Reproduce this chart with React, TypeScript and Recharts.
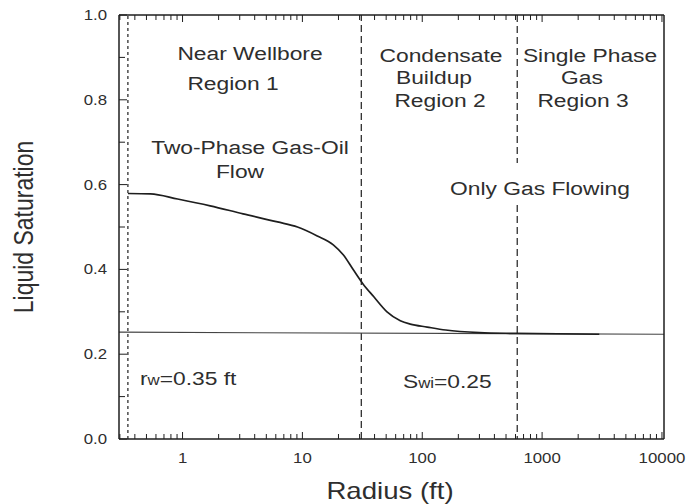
import { LineChart, Line, XAxis, YAxis, ReferenceLine } from "recharts";

// liquid saturation profile (radius in ft)
const radius = [0.35, 0.54, 0.91, 1.7, 3.2, 6.2, 9.1, 13.3, 18.1, 22, 26.6, 31.8, 39.3, 50.8, 65.6, 79.4, 110, 157, 300, 600, 3000];
const saturation = [0.579, 0.578, 0.566, 0.55, 0.531, 0.512, 0.5, 0.479, 0.458, 0.434, 0.399, 0.367, 0.336, 0.3, 0.279, 0.271, 0.264, 0.257, 0.251, 0.249, 0.247];

// connate water line, Swi = 0.25
const swiRadius = [0.295, 10400];
const swiLevel = [0.252, 0.247];

const wellRadius = 0.35;
const regionBounds = [31, 620];

const xDomain = [0.295, 10400];
const majorX = [1, 10, 100, 1000, 10000];
const yTicks = [0, 0.1, 0.2, 0.3, 0.4, 0.5, 0.6, 0.7, 0.8, 0.9, 1.0];

const minorX: number[] = [];
for (const d of [0.1, 1, 10, 100, 1000]) {
    for (let m = 2; m <= 9; m++) {
        const v = +(m * d).toPrecision(3);
        if (v >= xDomain[0] && v <= xDomain[1]) minorX.push(v);
    }
}
const xTicks = [...minorX, ...majorX];

const profile = radius.map((r, i) => ({ r, s: saturation[i] }));
const swi = swiRadius.map((r, i) => ({ r, s: swiLevel[i] }));

const INK = "#1e1e1e";
const TEXT = "#2e2e2e";
const FONT = '"Liberation Sans", Arial, Helvetica, sans-serif';
const STRETCH = 1.2; // the scan is widened, text included

const Txt = ({ x, y, size, anchor = "middle", rotate, children }: any) => (
    <text
        transform={`translate(${x},${y}) scale(${STRETCH},1)${rotate ? ` rotate(${rotate})` : ""}`}
        textAnchor={anchor}
        fontSize={size}
        fill={TEXT}
        fontFamily={FONT}
    >
        {children}
    </text>
);

const BottomTick = ({ x, y, payload }: any) => {
    const major = majorX.includes(payload.value);
    return (
        <g>
            <line x1={x} x2={x} y1={y} y2={y - (major ? 7 : 5)} stroke={INK} strokeWidth={1} />
            {major && <Txt x={x} y={y + 24} size={14}>{String(payload.value)}</Txt>}
        </g>
    );
};

const TopTick = ({ x, y, payload }: any) => {
    const major = majorX.includes(payload.value);
    return <line x1={x} x2={x} y1={y} y2={y + (major ? 7 : 5)} stroke={INK} strokeWidth={1} />;
};

const LeftTick = ({ x, y, payload }: any) => {
    const major = Math.round(payload.value * 10) % 2 === 0;
    return (
        <g>
            <line x1={x} x2={x + (major ? 8 : 6)} y1={y} y2={y} stroke={INK} strokeWidth={1} />
            {major && <Txt x={x - 12} y={y + 5} size={14} anchor="end">{payload.value.toFixed(1)}</Txt>}
        </g>
    );
};

const RightTick = ({ x, y, payload }: any) => {
    const major = Math.round(payload.value * 10) % 2 === 0;
    return <line x1={x} x2={x - (major ? 8 : 6)} y1={y} y2={y} stroke={INK} strokeWidth={1} />;
};

const axisLine = { stroke: INK, strokeWidth: 1.5 };

export default function App() {
    return (
        <div style={{ position: "absolute", left: 0, top: 0, width: 693, height: 504, background: "#fff" }}>
            <LineChart width={693} height={504} margin={{ top: 14, right: 28, bottom: 0, left: 0 }}>
                <XAxis
                    dataKey="r"
                    type="number"
                    scale="log"
                    domain={xDomain}
                    allowDataOverflow
                    ticks={xTicks}
                    interval={0}
                    tick={<BottomTick />}
                    tickSize={0}
                    tickMargin={0}
                    tickLine={false}
                    axisLine={axisLine}
                    height={65}
                />
                <XAxis
                    xAxisId="top"
                    orientation="top"
                    dataKey="r"
                    type="number"
                    scale="log"
                    domain={xDomain}
                    allowDataOverflow
                    ticks={xTicks}
                    interval={0}
                    tick={<TopTick />}
                    tickSize={0}
                    tickMargin={0}
                    tickLine={false}
                    axisLine={axisLine}
                    height={1}
                />
                <YAxis
                    type="number"
                    domain={[0, 1]}
                    ticks={yTicks}
                    interval={0}
                    tick={<LeftTick />}
                    tickSize={0}
                    tickMargin={0}
                    tickLine={false}
                    axisLine={axisLine}
                    width={119}
                />
                <YAxis
                    yAxisId="right"
                    orientation="right"
                    type="number"
                    domain={[0, 1]}
                    ticks={yTicks}
                    interval={0}
                    tick={<RightTick />}
                    tickSize={0}
                    tickMargin={0}
                    tickLine={false}
                    axisLine={axisLine}
                    width={1}
                />

                <ReferenceLine x={wellRadius} stroke={INK} strokeWidth={1.2} strokeDasharray="3 3" />
                <ReferenceLine x={regionBounds[0]} stroke={INK} strokeWidth={1.2} strokeDasharray="7 4" />
                <ReferenceLine
                    segment={[{ x: regionBounds[1], y: 1 }, { x: regionBounds[1], y: 0.651 }]}
                    stroke={INK}
                    strokeWidth={1.2}
                    strokeDasharray="7 4"
                />
                <ReferenceLine
                    segment={[{ x: regionBounds[1], y: 0.552 }, { x: regionBounds[1], y: 0 }]}
                    stroke={INK}
                    strokeWidth={1.2}
                    strokeDasharray="7 4"
                />

                <Line data={swi} dataKey="s" type="linear" stroke="#444" strokeWidth={1.1} dot={false} isAnimationActive={false} />
                <Line data={profile} dataKey="s" type="monotone" stroke={INK} strokeWidth={1.7} dot={false} isAnimationActive={false} />

                <Txt x={250} y={60} size={19}>Near Wellbore</Txt>
                <Txt x={233} y={90} size={19}>Region 1</Txt>
                <Txt x={250} y={154} size={19}>Two-Phase Gas-Oil</Txt>
                <Txt x={240} y={178} size={19}>Flow</Txt>
                <Txt x={441} y={62} size={19}>Condensate</Txt>
                <Txt x={434} y={84} size={19}>Buildup</Txt>
                <Txt x={440} y={107} size={19}>Region 2</Txt>
                <Txt x={590} y={62} size={19}>Single Phase</Txt>
                <Txt x={582} y={84} size={19}>Gas</Txt>
                <Txt x={583} y={107} size={19}>Region 3</Txt>
                <Txt x={540} y={195} size={19}>Only Gas Flowing</Txt>
                <Txt x={140} y={385} size={19} anchor="start">
                    r<tspan fontSize={14}>w</tspan>=0.35 ft
                </Txt>
                <Txt x={403} y={388} size={19} anchor="start">
                    S<tspan fontSize={14}>wi</tspan>=0.25
                </Txt>

                <Txt x={390} y={499} size={23}>Radius (ft)</Txt>
                <Txt x={33} y={227} size={23} rotate={-90}>Liquid Saturation</Txt>
            </LineChart>
        </div>
    );
}
